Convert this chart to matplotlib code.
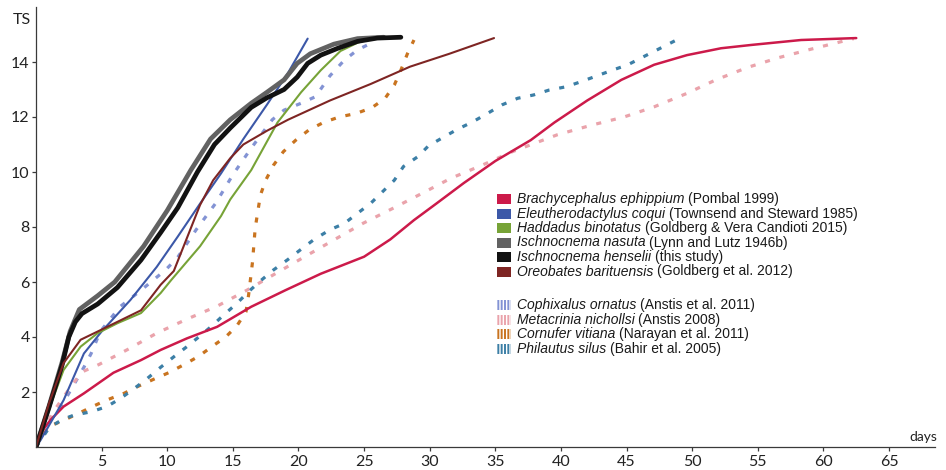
import matplotlib
matplotlib.use("Agg")
import matplotlib.pyplot as plt
from matplotlib.patches import Rectangle
import numpy as np

plt.rcParams["font.family"] = ["Lato", "DejaVu Sans"]

W, H = 946, 470

# Brachycephalus ephippium
brach_days = [0, 0.5, 1.1, 2.1, 3.65, 5.9, 8.0, 9.5, 11.5, 13.8, 16.4, 19, 21.7, 25.0, 27,
              28.8, 30.5, 32.6, 35, 37.7, 39.5, 42.0, 44.6, 47.1, 49.6, 52.2, 54.5, 58.3, 62.5]
brach_ts = [0, 0.6, 0.98, 1.47, 1.95, 2.7, 3.16, 3.53, 3.95, 4.37, 5.1, 5.7, 6.3, 6.92, 7.55,
            8.25, 8.85, 9.6, 10.4, 11.16, 11.8, 12.6, 13.35, 13.9, 14.25, 14.5, 14.62, 14.8, 14.87]

# Eleutherodactylus coqui
coqui_days = [0, 0.35, 2.1, 3.65, 5.0, 7.2, 9.2, 10.8, 12.5, 14.1, 15.8, 17.6, 19.2, 20.7]
coqui_ts = [0, 0.25, 1.7, 3.4, 4.2, 5.35, 6.55, 7.65, 8.85, 9.95, 11.2, 12.45, 13.6, 14.85]

# Haddadus binotatus
hadd_days = [0, 1, 2.1, 3.4, 4.7, 6.2, 8.0, 9.5, 10.3, 12.5, 14.1, 14.8, 16.4, 18.4, 20.2,
             21.7, 23.2, 24.5, 25.5]
hadd_ts = [0, 1.4, 2.8, 3.65, 4.14, 4.5, 4.87, 5.6, 6.07, 7.3, 8.4, 9.0, 10.07, 11.8, 12.9,
           13.7, 14.4, 14.7, 14.85]

# Ischnocnema nasuta
nasuta_days = [0, 1, 2, 2.6, 3.3, 4.7, 6.0, 8.2, 10.0, 11.8, 13.3, 14.8, 16.4, 17.6, 18.9,
               19.9, 20.9, 22.7, 24.5, 26.5]
nasuta_ts = [0, 1.5, 3.1, 4.2, 5.0, 5.5, 6.0, 7.3, 8.6, 10.07, 11.2, 11.9, 12.5, 12.9, 13.35,
             13.95, 14.3, 14.65, 14.85, 14.9]

# Ischnocnema henselii
hens_days = [0, 1, 2, 2.5, 3, 3.5, 4.7, 6.2, 8.0, 9.5, 10.8, 12.3, 13.6, 14.8, 16.4, 17.6,
             18.9, 19.9, 20.7, 21.7, 23.0, 24.5, 26, 27.8]
hens_ts = [0, 1.45, 3.0, 4.0, 4.55, 4.85, 5.2, 5.8, 6.8, 7.8, 8.7, 10.0, 11.0, 11.6, 12.35,
           12.7, 13.0, 13.45, 13.95, 14.25, 14.5, 14.75, 14.87, 14.9]

# Oreobates barituensis
oreo_days = [0, 1, 2.1, 3.4, 4.7, 6.2, 8.0, 9.5, 10.5, 11.5, 12.5, 13.5, 14.8, 15.8, 17.6,
             19.2, 22.4, 25.5, 28.5, 31.5, 34.9]
oreo_ts = [0, 1.6, 3.05, 3.9, 4.2, 4.55, 4.97, 5.9, 6.4, 7.6, 8.8, 9.7, 10.5, 11.0, 11.5,
           11.9, 12.6, 13.2, 13.83, 14.3, 14.87]

# Cophixalus ornatus
coph_days = [0, 1, 2.2, 3.65, 4.2, 4.9, 6.4, 8.0, 9.9, 10.8, 12.2, 13.7, 15.0, 16.4, 18.0,
             18.9, 20.2, 21.3, 22.4, 23.5, 24.5, 25.8]
coph_ts = [0, 0.9, 1.7, 2.9, 3.4, 4.2, 5.1, 5.7, 6.45, 6.9, 7.9, 8.87, 9.9, 10.87, 11.9,
           12.25, 12.5, 12.74, 13.5, 14.07, 14.44, 14.75]

# Metacrinia nichollsi
meta_days = [0, 1.2, 2.0, 2.8, 3.6, 4.8, 7.0, 9.2, 11.5, 13.8, 16.1, 18.3, 20.4, 22.7, 24.9,
             27.2, 29.4, 31.6, 34.0, 36.3, 39.7, 42.3, 44.8, 47.1, 49.6, 51.8, 54.2, 56.6,
             59.0, 61.6, 62.3]
meta_ts = [0, 1.2, 1.75, 2.3, 2.75, 3.0, 3.55, 4.14, 4.65, 5.12, 5.71, 6.32, 6.9, 7.53, 8.13,
           8.68, 9.22, 9.77, 10.25, 10.74, 11.35, 11.7, 12.0, 12.37, 12.86, 13.35, 13.8, 14.16,
           14.46, 14.77, 14.85]

# Cornufer vitiana
corn_days = [0, 1, 2.0, 3.15, 4.3, 5.4, 6.7, 7.7, 9.0, 10.1, 11.3, 12.4, 13.4, 14.45, 15.3,
             16.0, 16.2, 16.35, 16.5, 16.6, 16.7, 16.9, 17.1, 17.5, 18.1, 18.85, 19.8, 20.8,
             21.9, 23.1, 24.4, 25.6, 26.6, 27.3, 27.8, 28.3, 28.8]
corn_ts = [0, 0.75, 0.95, 1.2, 1.47, 1.71, 1.95, 2.19, 2.47, 2.7, 3.0, 3.3, 3.65, 4.0, 4.4,
           4.92, 5.53, 6.13, 6.74, 7.35, 7.95, 8.56, 9.16, 9.7, 10.25, 10.74, 11.16, 11.53,
           11.8, 12.0, 12.13, 12.34, 12.68, 13.16, 13.7, 14.3, 14.8]

# Philautus silus
phil_days = [0, 1, 2.0, 2.9, 4.2, 5.4, 6.45, 7.5, 8.5, 9.5, 10.5, 11.5, 12.4, 13.4, 14.3,
             15.3, 16.2, 17.1, 18.1, 19.2, 20.2, 21.2, 22.4, 23.5, 24.5, 25.5, 26.4, 27.3,
             28.0, 29.1, 29.9, 31.1, 32.1, 33.3, 34.4, 35.5, 36.7, 37.9, 39.1, 40.4, 41.5,
             42.7, 43.9, 45.1, 46.2, 47.4, 48.8]
phil_ts = [0, 0.7, 1.0, 1.16, 1.28, 1.47, 1.77, 2.13, 2.5, 2.9, 3.28, 3.65, 4.0, 4.4, 4.8,
           5.22, 5.65, 6.04, 6.44, 6.82, 7.19, 7.55, 7.9, 8.13, 8.5, 8.86, 9.28, 9.7, 10.2,
           10.56, 10.95, 11.28, 11.55, 11.83, 12.13, 12.44, 12.68, 12.8, 12.98, 13.1, 13.28,
           13.49, 13.7, 13.9, 14.17, 14.46, 14.8]

x_ticks = [5, 10, 15, 20, 25, 30, 35, 40, 45, 50, 55, 60, 65]
y_ticks = [2, 4, 6, 8, 10, 12, 14]

solid = [
    ("Brachycephalus ephippium", "(Pombal 1999)", brach_days, brach_ts, "#cc1a4a", 1.8),
    ("Eleutherodactylus coqui", "(Townsend and Steward 1985)", coqui_days, coqui_ts, "#3c58a8", 1.5),
    ("Haddadus binotatus", "(Goldberg & Vera Candioti 2015)", hadd_days, hadd_ts, "#77a337", 1.5),
    ("Ischnocnema nasuta", "(Lynn and Lutz 1946b)", nasuta_days, nasuta_ts, "#626262", 3.4),
    ("Ischnocnema henselii", "(this study)", hens_days, hens_ts, "#121212", 3.4),
    ("Oreobates barituensis", "(Goldberg et al. 2012)", oreo_days, oreo_ts, "#7e2523", 1.5),
]
dashed = [
    ("Cophixalus ornatus", "(Anstis et al. 2011)", coph_days, coph_ts, "#8393d4"),
    ("Metacrinia nichollsi", "(Anstis 2008)", meta_days, meta_ts, "#eaa3ab"),
    ("Cornufer vitiana", "(Narayan et al. 2011)", corn_days, corn_ts, "#c97420"),
    ("Philautus silus", "(Bahir et al. 2005)", phil_days, phil_ts, "#3c7fa6"),
]


def draw_key(fig, entries, top_px, step_px, striped):
    renderer = fig.canvas.get_renderer()
    for i, entry in enumerate(entries):
        name, cite, color = entry[0], entry[1], entry[4]
        yc = top_px + i * step_px
        fy = 1 - yc / H
        if striped:
            box = Rectangle((497 / W, fy - 5 / H), 14 / W, 10 / H, transform=fig.transFigure,
                            facecolor="white", edgecolor=color, hatch="|||||", lw=0)
        else:
            box = Rectangle((497 / W, fy - 5 / H), 14 / W, 10 / H, transform=fig.transFigure,
                            facecolor=color, edgecolor="none")
        fig.patches.append(box)
        t = fig.text(517 / W, fy, name, style="italic", va="center", ha="left",
                     fontsize=10, family="Liberation Sans", color="#1a1a1a")
        bb = t.get_window_extent(renderer)
        fig.text((bb.x1 + 3.5) / W, fy, cite, va="center", ha="left",
                 fontsize=10, family="Liberation Sans", color="#1a1a1a")


def make_plot():
    plt.rcParams["hatch.linewidth"] = 1.4
    fig = plt.figure(figsize=(W / 100, H / 100), dpi=100)
    ax = fig.add_axes([36 / W, 23 / H, 899 / W, 440 / H])

    for name, cite, d, t, color in dashed:
        ax.plot(d, t, color=color, lw=2.3, dashes=(1.6, 3.1), solid_capstyle="butt")
    for name, cite, d, t, color, lw in solid:
        ax.plot(d, t, color=color, lw=lw, solid_capstyle="round", solid_joinstyle="round")

    ax.set_xlim(0, 68.5)
    ax.set_ylim(0, 16)
    for side in ["top", "right"]:
        ax.spines[side].set_visible(False)
    for side in ["left", "bottom"]:
        ax.spines[side].set_color("#3a3a3a")
        ax.spines[side].set_linewidth(0.9)
    ax.set_xticks(x_ticks)
    ax.set_yticks(y_ticks)
    ax.tick_params(axis="both", length=3, width=0.9, color="#3a3a3a", labelsize=11.5,
                   labelcolor="#222222")
    ax.tick_params(axis="y", pad=1.5)
    ax.tick_params(axis="x", pad=3)

    fig.text(13 / W, 1 - 19.5 / H, "TS", fontsize=11.5, va="center", ha="left", color="#222222")
    fig.text(937 / W, 1 - 437 / H, "days", fontsize=10, va="center", ha="right",
             color="#222222", stretch="condensed")

    draw_key(fig, solid, 199, 14.5, False)
    draw_key(fig, dashed, 305, 14.6, True)

    fig.savefig("out.png", dpi=100)


if __name__ == "__main__":
    make_plot()
